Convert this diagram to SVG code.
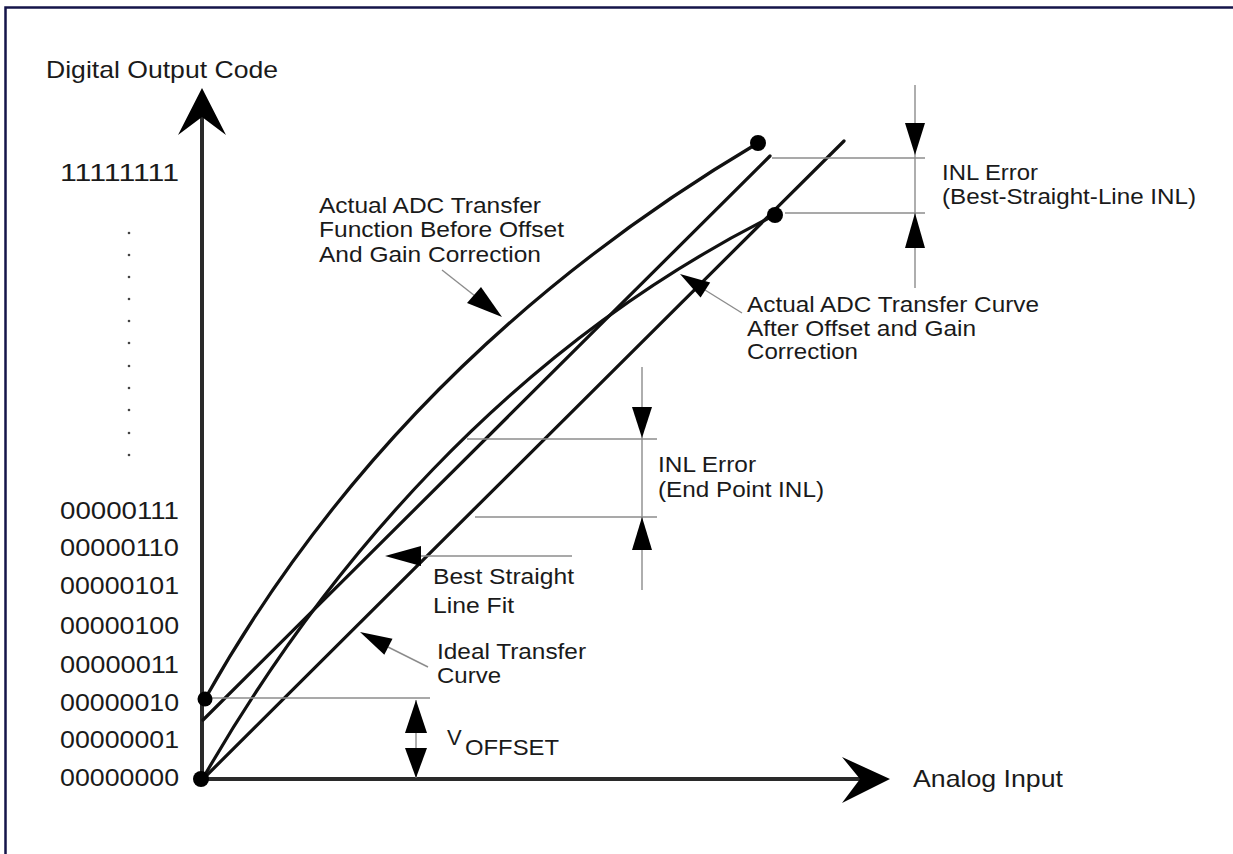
<svg xmlns="http://www.w3.org/2000/svg" width="1233" height="854" viewBox="0 0 1233 854">
<style>
.curve{fill:none;stroke:#111;stroke-width:3.2;stroke-linecap:round}
.thin{fill:none;stroke:#8c8c8c;stroke-width:1.4}
.axis{fill:none;stroke:#2a2a2a;stroke-width:4}
.head{fill:#000}
.lbl{font-family:"Liberation Sans",Arial,sans-serif;font-size:22px;fill:#1a1a1a}
.ax{font-size:24px}
.border{fill:none;stroke:#15154a;stroke-width:2.5}
</style>
<rect x="0" y="0" width="1233" height="854" fill="#fff"/>
<g id="frame">
<path class="border" d="M5.5,854 V7.5 H1233"/>
</g>
<g id="axes">
<line class="axis" x1="202" y1="780" x2="202" y2="112"/>
<polygon class="head" points="202,88 226,135 202,117 178,135"/>
<line class="axis" x1="202" y1="779" x2="866" y2="779"/>
<polygon class="head" points="890,779 842,803 860,779 842,757"/>
<text class="lbl ax" x="46" y="78" textLength="232" lengthAdjust="spacingAndGlyphs">Digital Output Code</text>
<text class="lbl ax" x="913" y="787" textLength="150" lengthAdjust="spacingAndGlyphs">Analog Input</text>
</g>
<g id="ticks">
<text class="lbl ax" x="60" y="181" textLength="119" lengthAdjust="spacingAndGlyphs">11111111</text>
<g fill="#444">
<circle cx="129" cy="233" r="1.3"/><circle cx="129" cy="255" r="1.3"/><circle cx="129" cy="277" r="1.3"/><circle cx="129" cy="299" r="1.3"/><circle cx="129" cy="321" r="1.3"/><circle cx="129" cy="343" r="1.3"/><circle cx="129" cy="366" r="1.3"/><circle cx="129" cy="388" r="1.3"/><circle cx="129" cy="410" r="1.3"/><circle cx="129" cy="433" r="1.3"/><circle cx="129" cy="455" r="1.3"/>
</g>
<text class="lbl ax" x="60" y="519" textLength="119" lengthAdjust="spacingAndGlyphs">00000111</text>
<text class="lbl ax" x="60" y="556" textLength="119" lengthAdjust="spacingAndGlyphs">00000110</text>
<text class="lbl ax" x="60" y="594" textLength="119" lengthAdjust="spacingAndGlyphs">00000101</text>
<text class="lbl ax" x="60" y="634" textLength="119" lengthAdjust="spacingAndGlyphs">00000100</text>
<text class="lbl ax" x="60" y="673" textLength="119" lengthAdjust="spacingAndGlyphs">00000011</text>
<text class="lbl ax" x="60" y="711" textLength="119" lengthAdjust="spacingAndGlyphs">00000010</text>
<text class="lbl ax" x="60" y="748" textLength="119" lengthAdjust="spacingAndGlyphs">00000001</text>
<text class="lbl ax" x="60" y="786" textLength="119" lengthAdjust="spacingAndGlyphs">00000000</text>
</g>
<g id="connectors">
<path id="ideal-line" class="curve" d="M202,780 L844,141"/>
<path id="best-straight-line" class="curve" d="M203,720 L770,156"/>
<path id="curve-before" class="curve" d="M205,699 C332,473 517,286 758,143"/>
<path id="curve-after" class="curve" d="M202,780 C321,572 507,349 775,215"/>
<g id="reference-lines">
<line class="thin" x1="210" y1="698" x2="430" y2="698"/>
<line class="thin" x1="467" y1="439" x2="657" y2="439"/>
<line class="thin" x1="475" y1="517" x2="657" y2="517"/>
<line class="thin" x1="772" y1="158" x2="925" y2="158"/>
<line class="thin" x1="785" y1="213" x2="925" y2="213"/>
</g>
</g>
<g id="dots">
<circle cx="201" cy="779" r="8"/>
<circle cx="205" cy="699" r="7.5"/>
<circle cx="758" cy="143" r="8"/>
<circle cx="775" cy="215" r="8"/>
</g>
<g id="label-before">
<line class="thin" x1="442" y1="270" x2="475" y2="296"/>
<polygon class="head" points="502,317 467,303 481,287"/>
<text class="lbl" x="319" y="213" textLength="222" lengthAdjust="spacingAndGlyphs">Actual ADC Transfer</text>
<text class="lbl" x="319" y="237" textLength="245" lengthAdjust="spacingAndGlyphs">Function Before Offset</text>
<text class="lbl" x="319" y="262" textLength="222" lengthAdjust="spacingAndGlyphs">And Gain Correction</text>
</g>
<g id="label-after">
<line class="thin" x1="705" y1="290" x2="742" y2="313"/>
<polygon class="head" points="680,274 700.6,297.6 710.2,282.4"/>
<text class="lbl" x="747" y="312" textLength="292" lengthAdjust="spacingAndGlyphs">Actual ADC Transfer Curve</text>
<text class="lbl" x="747" y="336" textLength="229" lengthAdjust="spacingAndGlyphs">After Offset and Gain</text>
<text class="lbl" x="747" y="359" textLength="111" lengthAdjust="spacingAndGlyphs">Correction</text>
</g>
<g id="inl-bsl">
<line class="thin" x1="915" y1="85" x2="915" y2="288"/>
<polygon class="head" points="905,123 925,123 915,155"/>
<polygon class="head" points="905,248 925,248 915,213"/>
<text class="lbl" x="942" y="180" textLength="96" lengthAdjust="spacingAndGlyphs">INL Error</text>
<text class="lbl" x="942" y="204" textLength="254" lengthAdjust="spacingAndGlyphs">(Best-Straight-Line INL)</text>
</g>
<g id="inl-endpoint">
<line class="thin" x1="642" y1="367" x2="642" y2="590"/>
<polygon class="head" points="632,407 652,407 642,438"/>
<polygon class="head" points="632,550 652,550 642,517"/>
<text class="lbl" x="658" y="472" textLength="98" lengthAdjust="spacingAndGlyphs">INL Error</text>
<text class="lbl" x="658" y="497" textLength="166" lengthAdjust="spacingAndGlyphs">(End Point INL)</text>
</g>
<g id="label-best-fit">
<line class="thin" x1="420" y1="556" x2="572" y2="556"/>
<polygon class="head" points="385,556 421,546 421,566"/>
<text class="lbl" x="433" y="584" textLength="141" lengthAdjust="spacingAndGlyphs">Best Straight</text>
<text class="lbl" x="433" y="613" textLength="81" lengthAdjust="spacingAndGlyphs">Line Fit</text>
</g>
<g id="label-ideal">
<line class="thin" x1="388" y1="647" x2="428" y2="667"/>
<polygon class="head" points="360,632 384.3,654.7 392.5,638.7"/>
<text class="lbl" x="437" y="659" textLength="149" lengthAdjust="spacingAndGlyphs">Ideal Transfer</text>
<text class="lbl" x="437" y="683" textLength="64" lengthAdjust="spacingAndGlyphs">Curve</text>
</g>
<g id="voffset">
<line class="thin" x1="416" y1="700" x2="416" y2="778"/>
<polygon class="head" points="405,733 427,733 416,700"/>
<polygon class="head" points="405,748 427,748 416,778"/>
<text class="lbl" x="447" y="745">V</text>
<text class="lbl" x="465" y="755" textLength="94" lengthAdjust="spacingAndGlyphs">OFFSET</text>
</g>
</svg>
